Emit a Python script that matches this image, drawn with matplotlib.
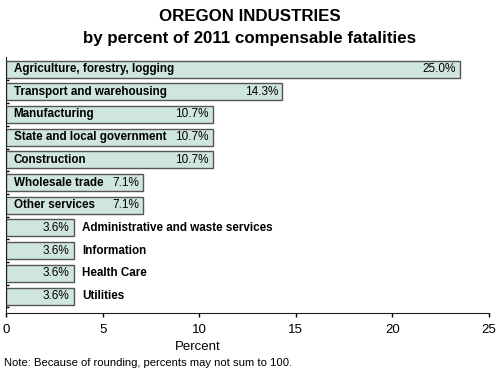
import matplotlib
matplotlib.use("Agg")
import matplotlib.pyplot as plt
import numpy as np

plt.rcParams['font.family'] = ['Liberation Sans', 'DejaVu Sans']

industries = ['Agriculture, forestry, logging', 'Transport and warehousing',
              'Manufacturing', 'State and local government', 'Construction',
              'Wholesale trade', 'Other services',
              'Administrative and waste services', 'Information',
              'Health Care', 'Utilities']
percents = [25.0, 14.3, 10.7, 10.7, 10.7, 7.1, 7.1, 3.6, 3.6, 3.6, 3.6]
# the longest bar is drawn short of its value in the original
bar_lengths = [23.5, 14.3, 10.7, 10.7, 10.7, 7.1, 7.1, 3.5, 3.5, 3.5, 3.5]
xticks = [0, 5, 10, 15, 20, 25]

fig = plt.figure(figsize=(5, 3.75), dpi=100)
ax = fig.add_axes([0.012, 0.165, 0.966, 0.683])

n = len(industries)
y = np.arange(n)[::-1]
ax.barh(y, bar_lengths, height=0.75, color='#cfe6dc', edgecolor='#555555', linewidth=1)

for yi, name, pct, ln in zip(y, industries, percents, bar_lengths):
    ax.text(ln - 0.2, yi, f'{pct:.1f}%', ha='right', va='center', fontsize=8.5)
    if ln > 5:
        ax.text(0.4, yi, name, ha='left', va='center', fontsize=8.4, fontweight='bold')
    else:
        ax.text(ln + 0.45, yi, name, ha='left', va='center', fontsize=8.4, fontweight='bold')

ax.set_xlim(0, 25)
ax.set_ylim(-0.75, n - 0.47)
ax.set_xticks(xticks)
ax.set_xticklabels([str(t) for t in xticks], fontsize=9.5)
ax.tick_params(axis='x', direction='out', length=3, width=1, pad=5)
ax.set_yticks([])
ax.set_yticks(np.arange(n) - 0.5, minor=True)
ax.tick_params(axis='y', which='minor', direction='in', length=2.5, width=1, labelleft=False)
for s in ['top', 'right']:
    ax.spines[s].set_visible(False)
for s in ['left', 'bottom']:
    ax.spines[s].set_color('#222222')

fig.text(0.5, 0.955, 'OREGON INDUSTRIES', ha='center', va='center',
         fontsize=12.2, fontweight='bold')
fig.text(0.5, 0.898, 'by percent of 2011 compensable fatalities', ha='center',
         va='center', fontsize=12.2, fontweight='bold')
fig.text(0.395, 0.075, 'Percent', ha='center', va='center', fontsize=9.5)
fig.text(0.008, 0.032, 'Note: Because of rounding, percents may not sum to 100.',
         ha='left', va='center', fontsize=8.1)

fig.savefig('out.png', dpi=100)
